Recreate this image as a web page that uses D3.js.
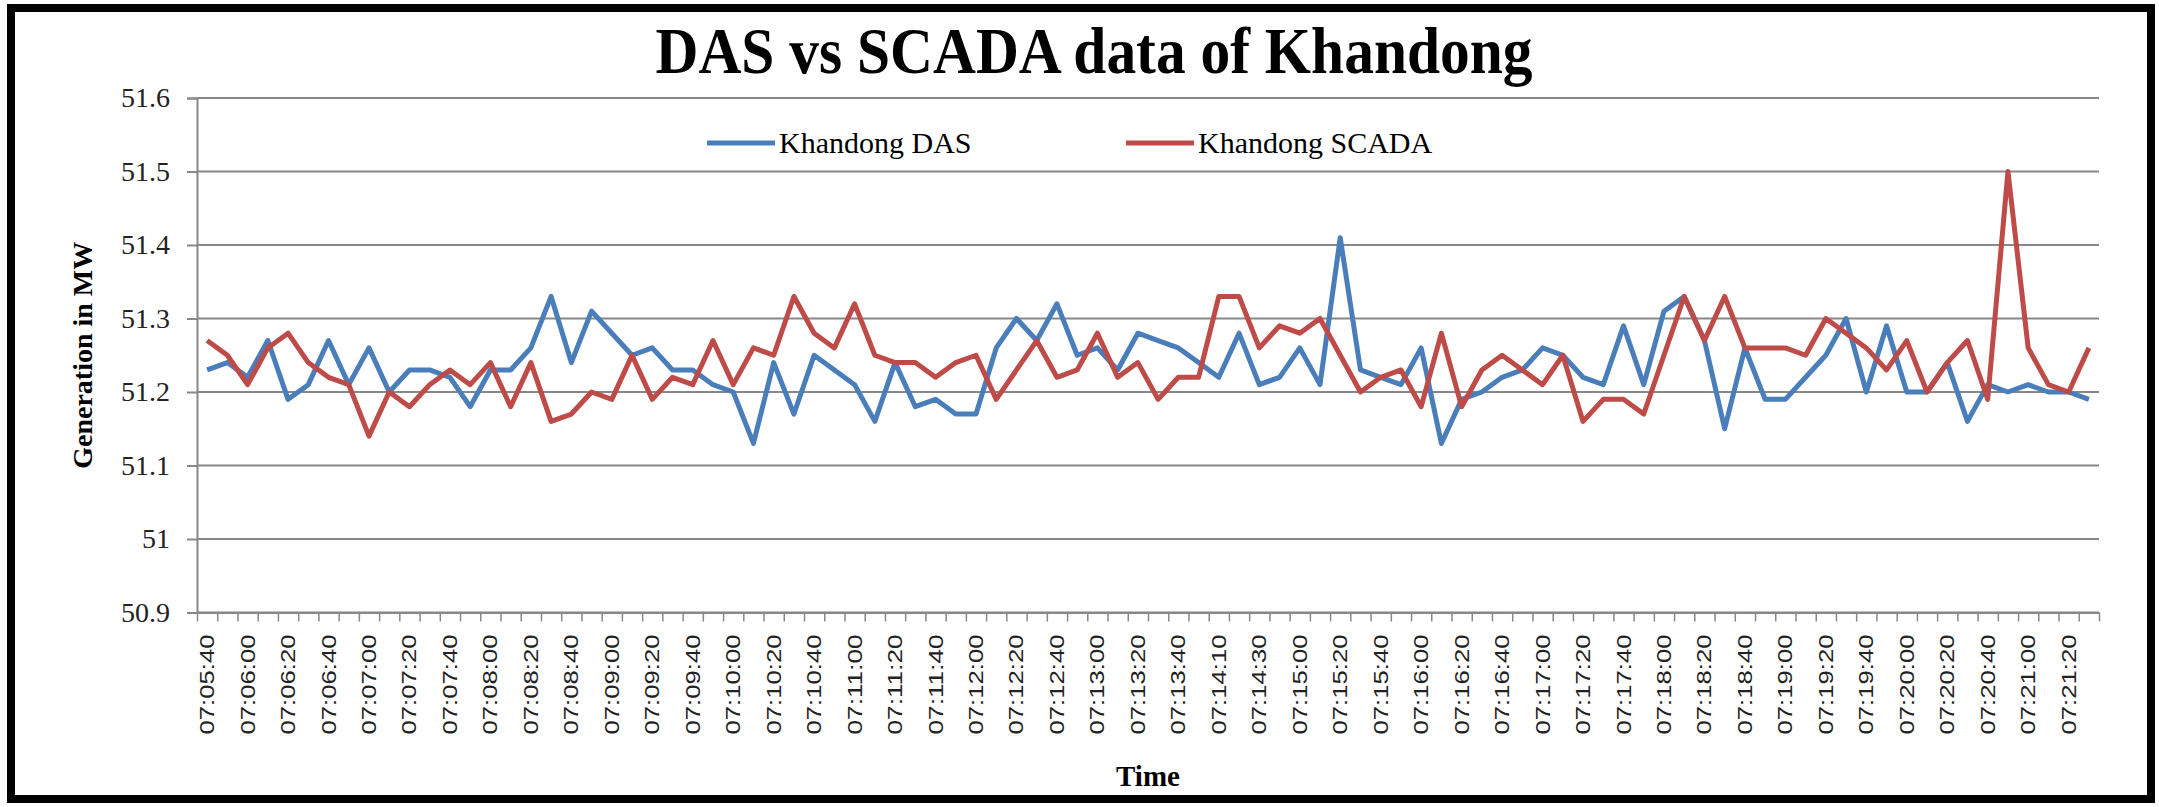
<!DOCTYPE html>
<html>
<head>
<meta charset="utf-8">
<script src="https://cdn.jsdelivr.net/npm/d3@7"></script>
<style>
  body { margin: 0; background: #fff; }
  svg { display: block; }
</style>
</head>
<body>
<script>
// Category labels on the x axis (Excel shows every second reading)
const tickLabels = [
    "07:05:40", "07:06:00", "07:06:20", "07:06:40", "07:07:00", "07:07:20", "07:07:40", "07:08:00",
    "07:08:20", "07:08:40", "07:09:00", "07:09:20", "07:09:40", "07:10:00", "07:10:20", "07:10:40",
    "07:11:00", "07:11:20", "07:11:40", "07:12:00", "07:12:20", "07:12:40", "07:13:00", "07:13:20",
    "07:13:40", "07:14:10", "07:14:30", "07:15:00", "07:15:20", "07:15:40", "07:16:00", "07:16:20",
    "07:16:40", "07:17:00", "07:17:20", "07:17:40", "07:18:00", "07:18:20", "07:18:40", "07:19:00",
    "07:19:20", "07:19:40", "07:20:00", "07:20:20", "07:20:40", "07:21:00", "07:21:20"
];

// Generation readings in MW, one per reading
const das = [
    51.23, 51.24, 51.22, 51.27, 51.19, 51.21, 51.27, 51.21, 51.26, 51.20, 51.23, 51.23,
    51.22, 51.18, 51.23, 51.23, 51.26, 51.33, 51.24, 51.31, 51.28, 51.25, 51.26, 51.23,
    51.23, 51.21, 51.20, 51.13, 51.24, 51.17, 51.25, 51.23, 51.21, 51.16, 51.24, 51.18,
    51.19, 51.17, 51.17, 51.26, 51.30, 51.27, 51.32, 51.25, 51.26, 51.23, 51.28, 51.27,
    51.26, 51.24, 51.22, 51.28, 51.21, 51.22, 51.26, 51.21, 51.41, 51.23, 51.22, 51.21,
    51.26, 51.13, 51.19, 51.20, 51.22, 51.23, 51.26, 51.25, 51.22, 51.21, 51.29, 51.21,
    51.31, 51.33, 51.27, 51.15, 51.26, 51.19, 51.19, 51.22, 51.25, 51.30, 51.20, 51.29,
    51.20, 51.20, 51.24, 51.16, 51.21, 51.20, 51.21, 51.20, 51.20, 51.19
];

const scada = [
    51.27, 51.25, 51.21, 51.26, 51.28, 51.24, 51.22, 51.21, 51.14, 51.20, 51.18, 51.21,
    51.23, 51.21, 51.24, 51.18, 51.24, 51.16, 51.17, 51.20, 51.19, 51.25, 51.19, 51.22,
    51.21, 51.27, 51.21, 51.26, 51.25, 51.33, 51.28, 51.26, 51.32, 51.25, 51.24, 51.24,
    51.22, 51.24, 51.25, 51.19, 51.23, 51.27, 51.22, 51.23, 51.28, 51.22, 51.24, 51.19,
    51.22, 51.22, 51.33, 51.33, 51.26, 51.29, 51.28, 51.30, 51.25, 51.20, 51.22, 51.23,
    51.18, 51.28, 51.18, 51.23, 51.25, 51.23, 51.21, 51.25, 51.16, 51.19, 51.19, 51.17,
    51.25, 51.33, 51.27, 51.33, 51.26, 51.26, 51.26, 51.25, 51.30, 51.28, 51.26, 51.23,
    51.27, 51.20, 51.24, 51.27, 51.19, 51.50, 51.26, 51.21, 51.20, 51.26
];

const yTicks = [50.9, 51, 51.1, 51.2, 51.3, 51.4, 51.5, 51.6];

const seriesNames = ["Khandong DAS", "Khandong SCADA"];
const seriesColors = ["#4A7EBB", "#BE4B48"];

const width = 2159;
const height = 807;
const marginTop = 98;
const marginRight = 60;
const marginBottom = 194.5;
const marginLeft = 197;
const serif = "'Liberation Serif', 'Times New Roman', serif";
const gridColor = "#888888";

const n = das.length;

// Category axis: each reading sits in the middle of its slot
const x = d3.scaleLinear()
    .domain([0, n])
    .range([marginLeft, width - marginRight]);

const y = d3.scaleLinear()
    .domain([50.9, 51.6])
    .range([height - marginBottom, marginTop]);

const svg = d3.select("body").append("svg")
    .attr("width", width)
    .attr("height", height);

svg.append("rect")
    .attr("width", width)
    .attr("height", height)
    .attr("fill", "#fff");

// Horizontal gridlines
svg.append("g")
    .selectAll("line")
    .data(yTicks)
    .join("line")
    .attr("x1", marginLeft)
    .attr("x2", width - marginRight)
    .attr("y1", d => y(d))
    .attr("y2", d => y(d))
    .attr("stroke", gridColor)
    .attr("stroke-width", 2);

// Y axis
const yAxis = svg.append("g")
    .attr("transform", `translate(${marginLeft},0)`)
    .call(d3.axisLeft(y)
        .tickValues(yTicks)
        .tickSize(10)
        .tickPadding(17)
        .tickFormat(d => String(+d.toFixed(1))));
yAxis.select(".domain").attr("stroke", gridColor).attr("stroke-width", 2);
yAxis.selectAll(".tick line").attr("stroke", gridColor).attr("stroke-width", 2);
yAxis.selectAll(".tick text")
    .attr("fill", "#222")
    .style("font-family", serif)
    .style("font-size", "28px");

// X axis: tick marks between categories
const xAxis = svg.append("g")
    .attr("transform", `translate(0,${height - marginBottom})`)
    .call(d3.axisBottom(x)
        .tickValues(d3.range(n + 1))
        .tickSize(9)
        .tickSizeOuter(0)
        .tickFormat(""));
xAxis.select(".domain").attr("stroke", gridColor).attr("stroke-width", 2);
xAxis.selectAll(".tick line").attr("stroke", gridColor).attr("stroke-width", 1.5);

// Rotated time labels on every second category
svg.append("g")
    .selectAll("text")
    .data(tickLabels)
    .join("text")
    .attr("transform", (d, i) => `translate(${x(i * 2 + 0.5)},${height - marginBottom + 22}) rotate(-90)`)
    .attr("text-anchor", "end")
    .attr("dominant-baseline", "central")
    .attr("fill", "#222")
    .style("font-family", "'Liberation Sans', Arial, sans-serif")
    .style("font-size", "20px")
    .attr("textLength", 100)
    .attr("lengthAdjust", "spacingAndGlyphs")
    .text(d => d);

// Series lines
const line = d3.line()
    .x((d, i) => x(i + 0.5))
    .y(d => y(d));

[das, scada].forEach((values, k) => {
    svg.append("path")
        .datum(values)
        .attr("fill", "none")
        .attr("stroke", seriesColors[k])
        .attr("stroke-width", 5)
        .attr("stroke-linejoin", "round")
        .attr("d", line);
});

// Title
svg.append("text")
    .attr("x", 1094)
    .attr("y", 73)
    .attr("text-anchor", "middle")
    .attr("textLength", 877)
    .attr("lengthAdjust", "spacingAndGlyphs")
    .style("font-family", serif)
    .style("font-weight", "bold")
    .style("font-size", "66px")
    .text("DAS vs SCADA data of Khandong");

// Axis titles
svg.append("text")
    .attr("transform", `translate(82,${(marginTop + height - marginBottom) / 2}) rotate(-90)`)
    .attr("text-anchor", "middle")
    .attr("dominant-baseline", "central")
    .style("font-family", serif)
    .style("font-weight", "bold")
    .style("font-size", "28px")
    .text("Generation in MW");

svg.append("text")
    .attr("x", (marginLeft + width - marginRight) / 2)
    .attr("y", 786)
    .attr("text-anchor", "middle")
    .style("font-family", serif)
    .style("font-weight", "bold")
    .style("font-size", "29px")
    .text("Time");

// Legend
const legendX = [707, 1126];
const legend = svg.append("g");
seriesNames.forEach((name, k) => {
    const row = legend.append("g")
        .attr("transform", `translate(${legendX[k]},143)`);
    row.append("line")
        .attr("x1", 0)
        .attr("x2", 68)
        .attr("stroke", seriesColors[k])
        .attr("stroke-width", 5);
    row.append("text")
        .attr("x", 72)
        .attr("y", 10)
        .style("font-family", serif)
        .style("font-size", "30px")
        .text(name);
});

// Black frame round the whole picture
svg.append("rect")
    .attr("x", 11)
    .attr("y", 8)
    .attr("width", 2140)
    .attr("height", 791)
    .attr("fill", "none")
    .attr("stroke", "#000")
    .attr("stroke-width", 8);
</script>
</body>
</html>
